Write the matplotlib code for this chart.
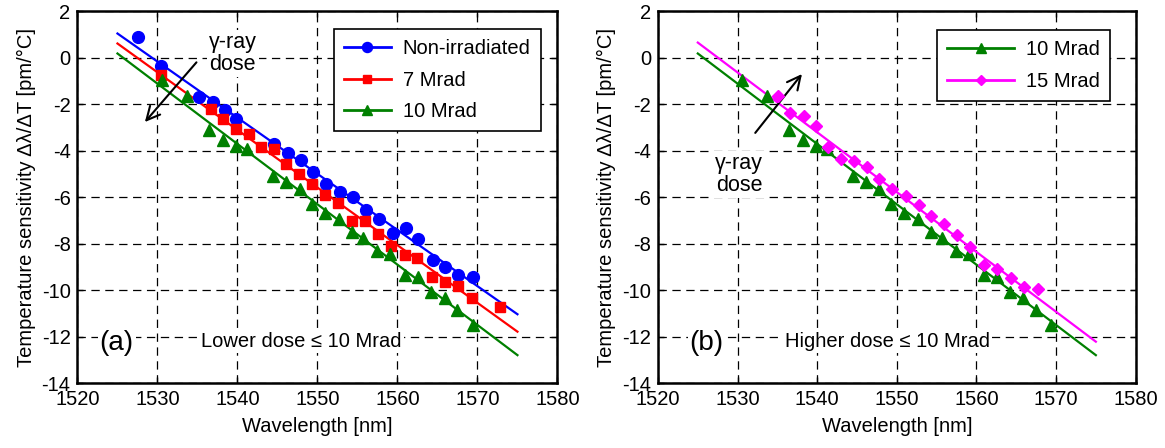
import matplotlib
matplotlib.use("Agg")
import matplotlib.pyplot as plt
from matplotlib.lines import Line2D

plt.rcParams["font.family"] = ["Liberation Sans", "DejaVu Sans"]
plt.rcParams["axes.unicode_minus"] = False
plt.rcParams["lines.scale_dashes"] = False

# --------------------------------------------------------------------------- #
# Data
# --------------------------------------------------------------------------- #
wl_blue = [1527.6, 1530.5, 1535.2, 1536.9, 1538.4, 1539.8, 1544.6, 1546.3,
           1547.9, 1549.5, 1551.1, 1552.8, 1554.4, 1556.1, 1557.7, 1559.4,
           1561.1, 1562.6, 1564.5, 1566.0, 1567.6, 1569.4]
s_blue = [0.90, -0.35, -1.69, -1.90, -2.23, -2.65, -3.72, -4.09,
          -4.41, -4.91, -5.42, -5.80, -5.99, -6.56, -6.95, -7.56,
          -7.35, -7.81, -8.71, -9.00, -9.35, -9.45]

wl_red = [1530.5, 1536.7, 1538.2, 1539.8, 1541.4, 1542.9, 1544.6, 1546.1,
          1547.7, 1549.3, 1550.9, 1552.6, 1554.3, 1555.9, 1557.6, 1559.2,
          1560.9, 1562.5, 1564.3, 1565.9, 1567.6, 1569.3, 1572.8]
s_red = [-0.75, -2.22, -2.65, -3.09, -3.30, -3.86, -3.91, -4.59,
         -5.02, -5.45, -5.91, -6.27, -7.02, -7.02, -7.59, -8.11,
         -8.49, -8.64, -9.43, -9.64, -9.81, -10.36, -10.72]

wl_green = [1530.6, 1533.7, 1536.5, 1538.2, 1539.8, 1541.2, 1544.5, 1546.1,
            1547.8, 1549.3, 1550.9, 1552.7, 1554.3, 1555.7, 1557.4, 1559.1,
            1560.9, 1562.6, 1564.2, 1565.9, 1567.5, 1569.4]
s_green = [-0.97, -1.64, -3.12, -3.55, -3.79, -3.94, -5.08, -5.37,
           -5.63, -6.30, -6.70, -6.95, -7.52, -7.75, -8.32, -8.46,
           -9.33, -9.43, -10.07, -10.36, -10.86, -11.51]

wl_mag = [1535.1, 1536.6, 1538.3, 1539.8, 1541.4, 1543.0, 1544.6, 1546.2,
          1547.8, 1549.4, 1551.1, 1552.8, 1554.3, 1555.9, 1557.6, 1559.2,
          1560.9, 1562.6, 1564.4, 1566.0, 1567.7]
s_mag = [-1.66, -2.36, -2.50, -2.95, -3.86, -4.38, -4.44, -4.70,
         -5.23, -5.66, -5.96, -6.34, -6.82, -7.16, -7.63, -8.16,
         -8.92, -9.10, -9.47, -9.86, -9.96]

# linear fits (end points)
fit_wl = [1525, 1575]
fit_blue = [1.04, -11.04]
fit_red = [0.61, -11.79]
fit_green = [0.18, -12.80]
fit_mag = [0.65, -12.22]

BLUE, RED, GREEN, MAG = "#0000FF", "#FF0000", "#008000", "#FF00FF"
FS = 14.5
WHITE_BOX = dict(facecolor="white", edgecolor="none", pad=1.5)


def style_axes(ax):
    ax.set_xlim(1520, 1580)
    ax.set_ylim(-14, 2)
    ax.set_xticks(range(1520, 1581, 10))
    ax.set_yticks(range(-14, 3, 2))
    ax.tick_params(direction="in", length=4, width=1, top=True, right=True,
                   labelsize=FS, pad=5)
    ax.grid(True, color="k", linestyle=(0, (6, 4)), linewidth=0.9)
    ax.set_axisbelow(True)
    for sp in ax.spines.values():
        sp.set_linewidth(1.8)
    ax.set_xlabel("Wavelength [nm]", fontsize=FS, labelpad=6)
    ax.set_ylabel("Temperature sensitivity \u0394\u03bb/\u0394T [pm/\u00b0C]",
                  fontsize=FS, labelpad=4)


def series(ax, x, y, fx, fy, color, marker, ms):
    ax.plot(fx, fy, color=color, lw=1.6, zorder=3)
    ax.plot(x, y, ls="none", marker=marker, ms=ms, color=color, mec=color,
            zorder=4)
    return Line2D([], [], color=color, lw=2, marker=marker, ms=ms * 0.85)


fig = plt.figure(figsize=(11.65, 4.48), dpi=100)
ax1 = fig.add_axes([0.0665, 0.145, 0.412, 0.830])
ax2 = fig.add_axes([0.5648, 0.145, 0.410, 0.830])

# ---- (a) lower dose ----
style_axes(ax1)
h1 = [series(ax1, wl_blue, s_blue, fit_wl, fit_blue, BLUE, "o", 8.5),
      series(ax1, wl_red, s_red, fit_wl, fit_red, RED, "s", 7.5),
      series(ax1, wl_green, s_green, fit_wl, fit_green, GREEN, "^", 8.5)]
leg = ax1.legend(h1, ["Non-irradiated", "7 Mrad", "10 Mrad"], fontsize=FS,
                 loc="upper right", bbox_to_anchor=(0.965, 0.952),
                 fancybox=False, framealpha=1, edgecolor="k",
                 handlelength=2.3, labelspacing=0.62, borderpad=0.5,
                 handletextpad=0.6, borderaxespad=0)
leg.get_frame().set_linewidth(1.2)
ax1.annotate("", xy=(1528.2, -2.86), xytext=(1535.1, -0.11),
             arrowprops=dict(arrowstyle="->", lw=1.5, color="k",
                             mutation_scale=24))
ax1.text(1539.4, 0.17, "\u03b3-ray\ndose", fontsize=15.5, ha="center",
         va="center", linespacing=1.05, bbox=WHITE_BOX)
ax1.text(1524.9, -12.28, "(a)", fontsize=20, ha="center", va="center",
         bbox=WHITE_BOX)
ax1.text(1535.5, -12.22, "Lower dose \u2264 10 Mrad", fontsize=FS,
         ha="left", va="center", bbox=WHITE_BOX)

# ---- (b) higher dose ----
style_axes(ax2)
h2 = [series(ax2, wl_green, s_green, fit_wl, fit_green, GREEN, "^", 8.5),
      series(ax2, wl_mag, s_mag, fit_wl, fit_mag, MAG, "D", 6.5)]
leg2 = ax2.legend(h2, ["10 Mrad", "15 Mrad"], fontsize=FS,
                  loc="upper right", bbox_to_anchor=(0.946, 0.949),
                  fancybox=False, framealpha=1, edgecolor="k",
                  handlelength=3.3, labelspacing=0.62, borderpad=0.5,
                  handletextpad=0.6, borderaxespad=0)
leg2.get_frame().set_linewidth(1.2)
ax2.annotate("", xy=(1538.3, -0.61), xytext=(1532.0, -3.33),
             arrowprops=dict(arrowstyle="->", lw=1.5, color="k",
                             mutation_scale=24))
ax2.text(1530.2, -5.03, "\u03b3-ray\ndose", fontsize=15.5, ha="center",
         va="center", linespacing=1.05, bbox=WHITE_BOX)
ax2.text(1526.1, -12.28, "(b)", fontsize=20, ha="center", va="center",
         bbox=WHITE_BOX)
ax2.text(1536.0, -12.22, "Higher dose \u2264 10 Mrad", fontsize=FS,
         ha="left", va="center", bbox=WHITE_BOX)

fig.savefig("out.png", dpi=100)
